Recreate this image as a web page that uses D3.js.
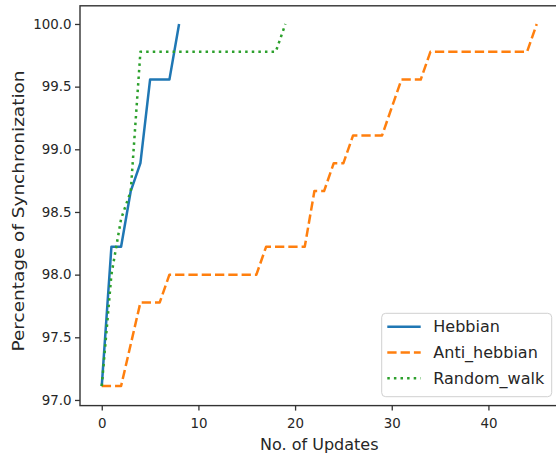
<!DOCTYPE html>
<html>
<head>
<meta charset="utf-8">
<script src="https://cdn.jsdelivr.net/npm/d3@7"></script>
<style>
  body { margin: 0; background: #fff; }
  svg { display: block; font-family: "DejaVu Sans", sans-serif; }
</style>
</head>
<body>
<svg id="canvas" width="556" height="455"></svg>
<script>
"use strict";

// values (percent in steps of 2/9)
var hebbian = [97.111, 98.222, 98.222, 98.667, 98.889, 99.556, 99.556, 99.556, 100];
var antiHebbian = [97.111, 97.111, 97.111, 97.444, 97.778, 97.778, 97.778, 98.0, 98.0, 98.0,
    98.0, 98.0, 98.0, 98.0, 98.0, 98.0, 98.0, 98.222, 98.222, 98.222,
    98.222, 98.222, 98.667, 98.667, 98.889, 98.889, 99.111, 99.111, 99.111, 99.111,
    99.333, 99.556, 99.556, 99.556, 99.778, 99.778, 99.778, 99.778, 99.778, 99.778,
    99.778, 99.778, 99.778, 99.778, 99.778, 100];
var randomWalk = [97.111, 98.0, 98.444, 98.667, 99.778, 99.778, 99.778, 99.778, 99.778, 99.778,
    99.778, 99.778, 99.778, 99.778, 99.778, 99.778, 99.778, 99.778, 99.778, 100];

var seriesNames = ["Hebbian", "Anti_hebbian", "Random_walk"];
var seriesColors = ["#1f77b4", "#ff7f0e", "#2ca02c"];
var seriesDashes = [null, "9.3,4", "2.5,4.1"];
var xTicks = [0, 10, 20, 30, 40];
var yTicks = [97.0, 97.5, 98.0, 98.5, 99.0, 99.5, 100.0];

var svg = d3.select("#canvas");

var LEFT = 80, RIGHT = 558.5, TOP = 5.8, BOTTOM = 405.6;

var x = d3.scaleLinear().domain([-2.25, 47.25]).range([LEFT, RIGHT]);
var y = d3.scaleLinear().domain([96.955, 100.145]).range([BOTTOM, TOP]);

var allSeries = [hebbian, antiHebbian, randomWalk];

var line = d3.line()
    .x(function(d, i) { return x(i); })
    .y(function(d) { return y(d); });

// lines
svg.append("g").selectAll("path")
    .data(allSeries)
    .enter().append("path")
    .attr("d", line)
    .attr("fill", "none")
    .attr("stroke", function(d, i) { return seriesColors[i]; })
    .attr("stroke-width", 2.5)
    .attr("stroke-dasharray", function(d, i) { return seriesDashes[i]; })
    .attr("stroke-linejoin", "round");

// spines
svg.append("rect")
    .attr("x", LEFT).attr("y", TOP)
    .attr("width", RIGHT - LEFT).attr("height", BOTTOM - TOP)
    .attr("fill", "none")
    .attr("stroke", "#333")
    .attr("stroke-width", 1.4);

// axes
var xAxis = svg.append("g")
    .attr("transform", "translate(0," + BOTTOM + ")")
    .call(d3.axisBottom(x).tickValues(xTicks).tickSize(5).tickSizeOuter(0).tickPadding(8));
var yAxis = svg.append("g")
    .attr("transform", "translate(" + LEFT + ",0)")
    .call(d3.axisLeft(y).tickValues(yTicks).tickFormat(d3.format(".1f")).tickSize(5).tickSizeOuter(0).tickPadding(3.5));

[xAxis, yAxis].forEach(function(ax) {
    ax.select(".domain").remove();
    ax.selectAll("line").attr("stroke", "#333").attr("stroke-width", 1.3);
    ax.selectAll("text")
        .attr("fill", "#262626")
        .attr("font-size", "13.4px")
        .attr("font-family", "DejaVu Sans, sans-serif");
});

// axis labels
svg.append("text")
    .attr("x", (LEFT + RIGHT) / 2)
    .attr("y", 450)
    .attr("text-anchor", "middle")
    .attr("font-size", "16px")
    .attr("fill", "#262626")
    .text("No. of Updates");

// the reference is stretched a bit vertically, so the y label runs longer
svg.append("text")
    .attr("transform", "translate(23.5,211) rotate(-90)")
    .attr("text-anchor", "middle")
    .attr("font-size", "16.5px")
    .attr("textLength", 281)
    .attr("lengthAdjust", "spacingAndGlyphs")
    .attr("fill", "#262626")
    .text("Percentage of Synchronization");

// legend
var legend = svg.append("g");
legend.append("rect")
    .attr("x", 381.7).attr("y", 313.3)
    .attr("width", 170).attr("height", 83.4)
    .attr("rx", 4)
    .attr("fill", "#fff")
    .attr("fill-opacity", 0.8)
    .attr("stroke", "#d0d0d0")
    .attr("stroke-width", 1);

var entries = legend.selectAll("g.entry")
    .data(seriesNames)
    .enter().append("g")
    .attr("class", "entry")
    .attr("transform", function(d, i) { return "translate(0," + (326.7 + i * 25.8) + ")"; });

entries.append("line")
    .attr("x1", 387.3).attr("x2", 420.7)
    .attr("y1", 0).attr("y2", 0)
    .attr("stroke", function(d, i) { return seriesColors[i]; })
    .attr("stroke-width", 2.5)
    .attr("stroke-dasharray", function(d, i) { return seriesDashes[i]; });

entries.append("text")
    .attr("x", 433.3)
    .attr("y", 0)
    .attr("dy", "0.36em")
    .attr("font-size", "16px")
    .attr("fill", "#262626")
    .text(function(d) { return d; });
</script>
</body>
</html>
